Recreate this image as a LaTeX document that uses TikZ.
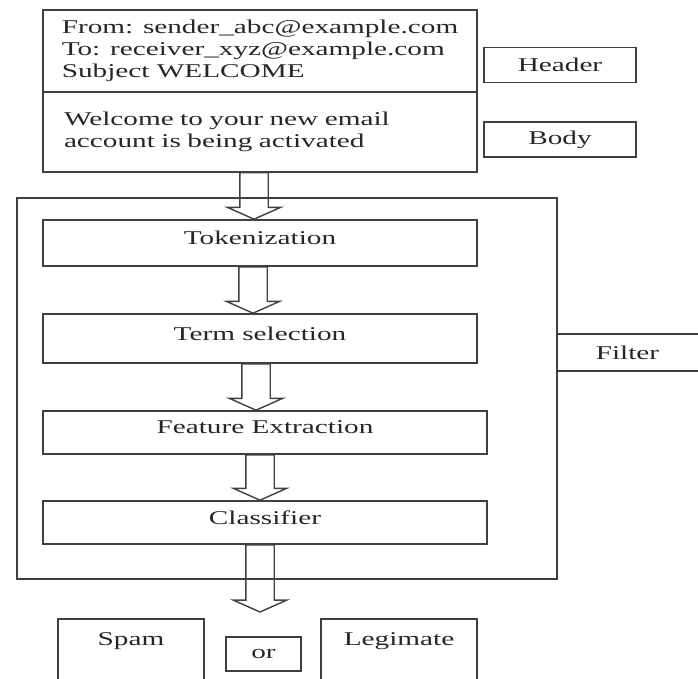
\documentclass[tikz,border=0pt]{standalone}
\usepackage{fontspec}
\setmainfont[FakeStretch=1.5]{Liberation Serif}
\usetikzlibrary{shapes.arrows,calc}

\tikzset{
  box/.style={draw=black!75, line width=1.6pt, rectangle, minimum width=434pt, text=black!85},
  proc/.style={box, text depth=10pt},
  tag/.style={box, minimum width=152pt, minimum height=35pt},
  outbox/.style={rectangle, minimum width=146pt, minimum height=60pt, text height=13pt, text depth=21pt, text=black!85},
  flow/.style={single arrow, draw=black!75, line width=1.4pt, shape border rotate=270,
    inner sep=13.5pt, outer sep=0pt, single arrow head extend=12.5pt,
    single arrow tip angle=132, anchor=tail}
}

\begin{document}
\begin{tikzpicture}[x=1pt, y=-1pt, font=\fontsize{19.5}{22}\selectfont]
\useasboundingbox (0,0) rectangle (698,679);

% the mail
\node[box, minimum height=82pt, align=left] (msghead) at (260,51)
  {From: sender\_abc@example.com\\ To: receiver\_xyz@example.com\\ Subject WELCOME};
\node[box, minimum height=80pt, text width=392pt, inner xsep=21pt, align=left] (msgbody) at (260,132)
  {Welcome to your new email\\ account is being activated};
\node[tag] (hdrtag) at (560,65) {Header};
\node[tag] (bodytag) at (560,139.5) {Body};

% filter
\node[draw=black!75, line width=1.6pt, minimum width=540pt, minimum height=381pt] (frame) at (287,388.5) {};
\node[minimum width=141pt, minimum height=37pt, text=black!85] (ftag) at (627.5,352.5) {Filter};
\draw[draw=black!75, line width=1.6pt] (ftag.north west) -- (ftag.north east);
\draw[draw=black!75, line width=1.6pt] (ftag.south west) -- (ftag.south east);

\node[proc, minimum height=46pt] (tok) at (260,243) {Tokenization};
\node[proc, minimum height=49pt] (term) at (260,338.5) {Term selection};
\node[proc, minimum width=444pt, minimum height=43pt] (feat) at (265,432.5) {Feature Extraction};
\node[proc, minimum width=444pt, minimum height=43pt] (cls) at (265,522.5) {Classifier};

% result
\node[outbox] (spam) at (131,649) {Spam};
\node[box, minimum width=75pt, minimum height=34pt] (ortag) at (263.5,654) {or};
\node[outbox, minimum width=156pt] (legit) at (399,649) {Legimate};
\draw[draw=black!75, line width=1.6pt] (spam.south west) |- (spam.north east) -- (spam.south east);
\draw[draw=black!75, line width=1.6pt] (legit.south west) |- (legit.north east) -- (legit.south east);
\coordinate (res) at (265,612);

% arrows
\foreach \a/\b/\d in {msgbody/tok/-6, tok/term/-7, term/feat/-4, feat/cls/-5}
  \path let \p1=(\a.south), \p2=(\b.north) in
    node[flow, minimum height={\y1-\y2}] at (\x1+\d pt,\y1) {};
\path let \p1=(cls.south), \p2=(res) in
  node[flow, minimum height={\y1-\y2}] at (\x1-5pt,\y1) {};

\end{tikzpicture}
\end{document}
